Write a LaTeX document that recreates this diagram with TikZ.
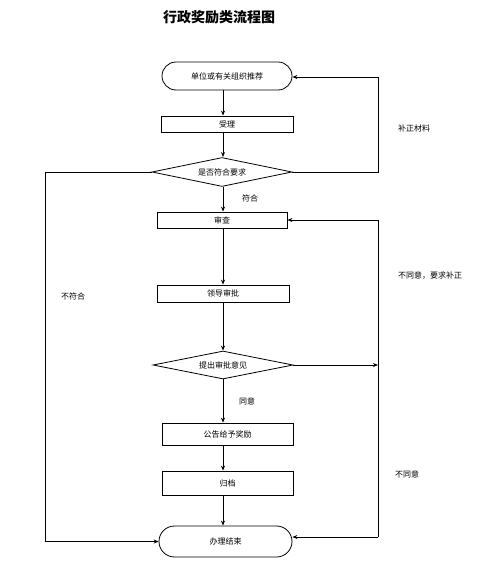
\documentclass[tikz,border=0pt]{standalone}
\usepackage{fontspec}
\newfontfamily\cjk{Noto Sans CJK SC}
\usetikzlibrary{shapes.geometric,shapes.misc,arrows.meta,calc}
\begin{document}
\begin{tikzpicture}[x=1pt,y=-1pt,
  every node/.style={font=\cjk\fontsize{8}{9}\selectfont, inner sep=0pt},
  box/.style={draw, line width=0.8pt, rectangle},
  term/.style={draw, line width=0.8pt, rounded rectangle},
  dia/.style={draw, line width=0.8pt, diamond, aspect=4.8},
  conn/.style={line width=0.8pt, -{Stealth[length=5pt,width=4pt]}},
  lbl/.style={}]
\useasboundingbox (0,0) rectangle (492,581);
\node[font=\cjk\bfseries\fontsize{14}{16}\selectfont] (title) at (219,17) {行政奖励类流程图};
\node[term, minimum width=130pt, minimum height=28pt] (start) at (227,76) {单位或有关组织推荐};
\node[box, minimum width=132pt, minimum height=16pt] (accept) at (227,124) {受理};
\node[dia, minimum width=140pt, minimum height=29pt] (check) at (222,172) {是否符合要求};
\node[box, minimum width=130pt, minimum height=16pt] (review) at (222,220) {审查};
\node[box, minimum width=132pt, minimum height=17pt] (lead) at (223,293.5) {领导审批};
\node[dia, minimum width=140pt, minimum height=28pt] (opinion) at (223,365) {提出审批意见};
\node[box, minimum width=131pt, minimum height=22pt] (announce) at (227.5,434) {公告给予奖励};
\node[box, minimum width=131pt, minimum height=24pt] (archive) at (227.5,483) {归档};
\node[term, minimum width=133pt, minimum height=31pt] (finish) at (225.5,541.5) {办理结束};

\coordinate (axis) at (223,0);
\coordinate (r1) at (378,172);
\coordinate (r1t) at (378,77);
\coordinate (l1) at (45,172);
\coordinate (l1b) at (45,541.5);
\coordinate (r2) at (378,365);
\coordinate (r2t) at (378,220);
\coordinate (r2b) at (378,537);

\draw[conn] (start.south -| axis) -- (accept.north -| axis);
\draw[conn] (accept.south -| axis) -- (check.north -| axis);
\draw[conn] (check.south -| axis) -- (review.north -| axis);
\draw[conn] (review.south -| axis) -- (lead.north -| axis);
\draw[conn] (lead.south -| axis) -- (opinion.north -| axis);
\draw[conn] (opinion.south -| axis) -- (announce.north -| axis);
\draw[conn] (announce.south -| axis) -- (archive.north -| axis);
\draw[conn] (archive.south -| axis) -- (finish.north -| axis);

\draw[conn] (check.east) -- (r1) -- (r1t) -- (start.east |- r1t);
\draw[conn] (check.west) -- (l1) -- (l1b) -- (finish.west);
\draw[conn] (opinion.east) -- (r2);
\draw[conn] (r2b) -- (r2t) -- (review.east);
\draw[conn] (r2b) -- ($(finish.east)+(0,-4.5)$);

\node[lbl] (t1) at (250,198) {符合};
\node[lbl] (t2) at (247,401) {同意};
\node[lbl] (t3) at (414,128) {补正材料};
\node[lbl] (t4) at (73,296) {不符合};
\node[lbl] (t5) at (430,276) {不同意，要求补正};
\node[lbl] (t6) at (407,474) {不同意};
\end{tikzpicture}
\end{document}
